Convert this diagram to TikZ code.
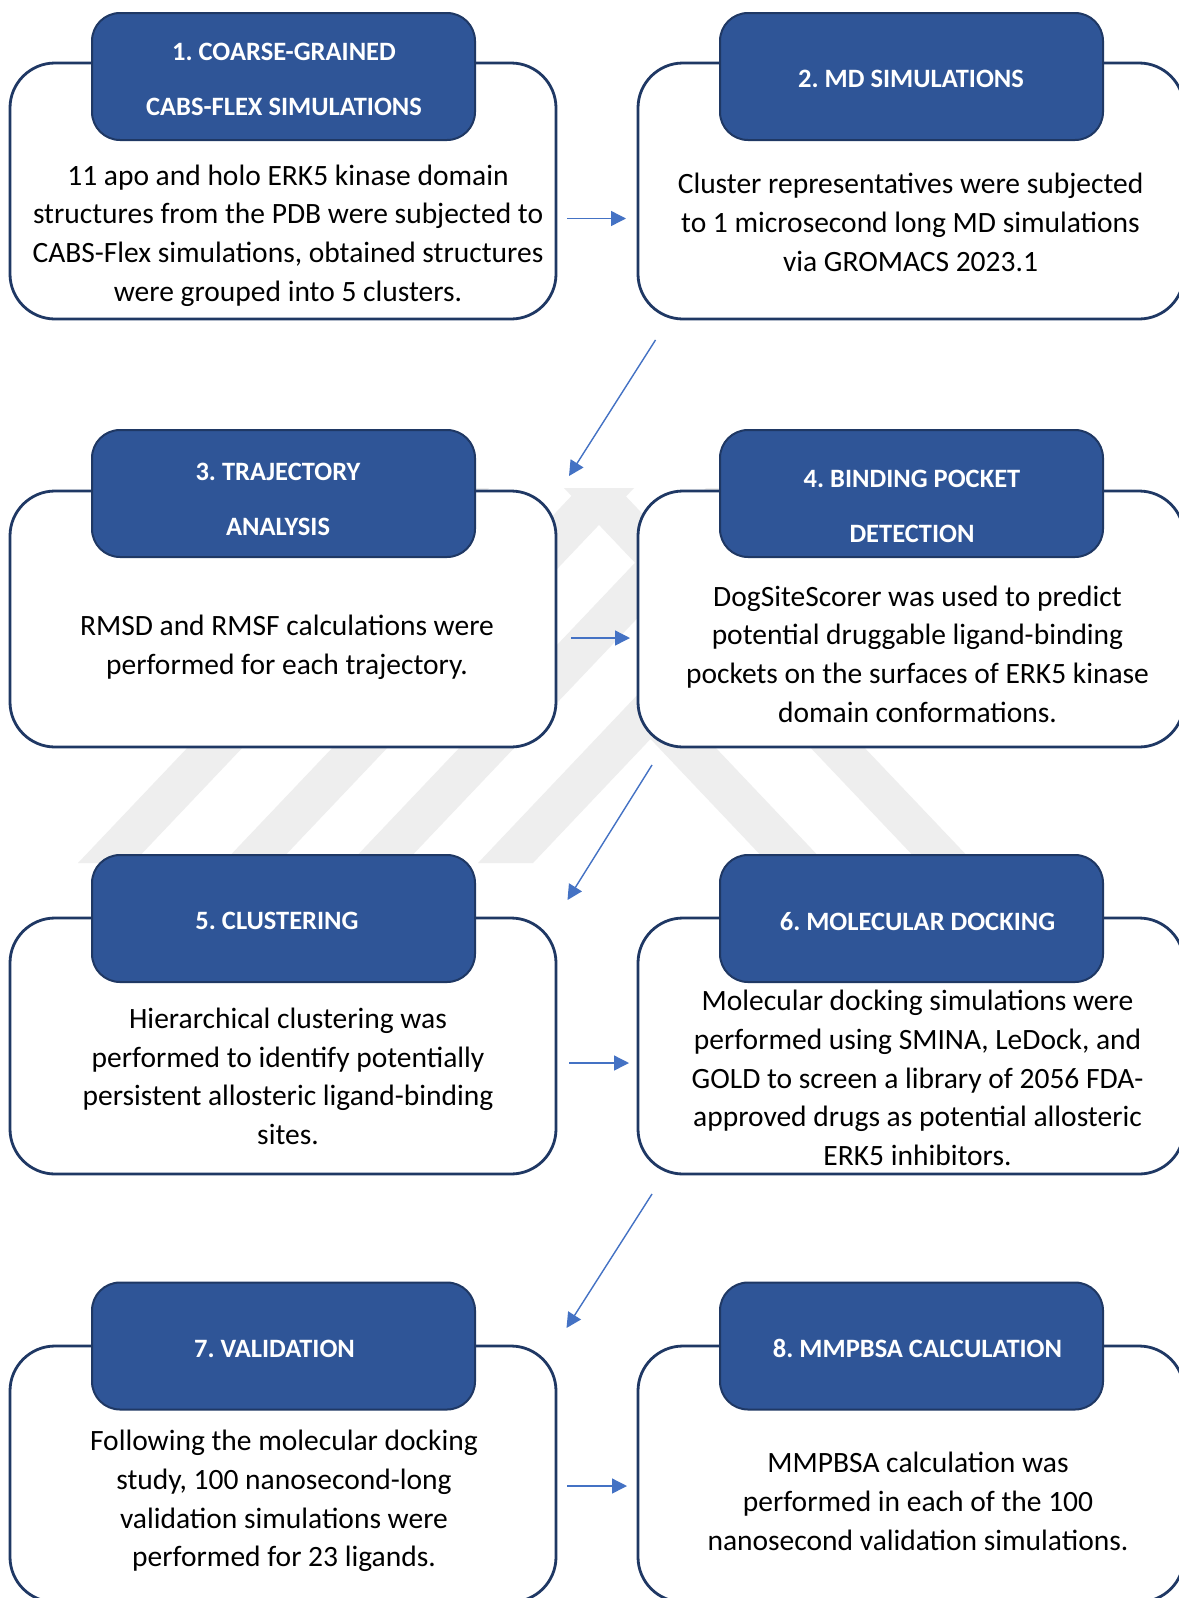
\documentclass[tikz,border=0pt]{standalone}
\usepackage{fontspec}
\setmainfont{Carlito}
\usetikzlibrary{arrows.meta}
\usetikzlibrary{positioning}
\definecolor{navyline}{RGB}{31,56,100}
\definecolor{headblue}{RGB}{47,85,151}
\definecolor{flowblue}{RGB}{68,114,196}
\definecolor{markgray}{RGB}{238,238,238}
\tikzset{>={Triangle[length=15pt,width=15pt]}, flow/.style={->, draw=flowblue, fill=flowblue, line width=1.4pt}}
\frenchspacing

\begin{document}
\begin{tikzpicture}[x=1pt,y=-1pt]
\tikzstyle{every node}+=[inner sep=0pt, outer sep=0pt]
\tikzstyle{stepbox}=[draw=navyline, line width=2.8pt, fill=white, rounded corners=45pt, minimum width=546pt, minimum height=256pt]
\tikzstyle{headbox}=[draw=navyline, line width=2pt, fill=headblue, rounded corners=28pt, minimum width=383pt, minimum height=127pt]
\tikzstyle{headtext}=[text=white, font=\fontsize{26.5}{55}\selectfont\bfseries, align=center]
\tikzstyle{bodytext}=[font=\fontsize{29.5}{38.7}\selectfont, align=center]
\useasboundingbox (0,0) rectangle (1178,1598);
\fill[white] (0,0) rectangle (1178,1598);
% faint watermark behind the boxes
\fill[markgray] (78,863) -- (133,863) -- (489,488) -- (434,488) -- cycle;
\fill[markgray] (223,863) -- (278,863) -- (634,488) -- (579,488) -- cycle;
\fill[markgray] (350,863) -- (405,863) -- (761,488) -- (706,488) -- cycle;
\fill[markgray] (478,863) -- (651.5,680) -- (825,863) -- (768,863) -- (650.5,739) -- (533,863) -- cycle;
\fill[markgray] (920,863) -- (974,863) -- (618,488) -- (564,488) -- cycle;
% row 1
\node[stepbox] (s1) at (283,191) {};
\node[stepbox] (s2) at (911,191) {};
\node[headbox] (h1) at (283.5,76.5) {};
\node[headbox] (h2) at (911.5,76.5) {};
\node[headtext] (h1t) at (284,79.5) {1. COARSE-GRAINED\\CABS-FLEX SIMULATIONS};
\node[headtext] (h2t) at (911,78.5) {2. MD SIMULATIONS};
\node[bodytext] (b1) at (288,235.5) {11 apo and holo ERK5 kinase domain\\structures from the PDB were subjected to\\CABS-Flex simulations, obtained structures\\were grouped into 5 clusters.};
\node[bodytext] (b2) at (910.5,222.5) {Cluster representatives were subjected\\to 1 microsecond long MD simulations\\via GROMACS 2023.1};
% row 2
\node[stepbox] (s3) at (283,619) {};
\node[stepbox] (s4) at (911,619) {};
\node[headbox] (h3) at (283.5,493.5) {};
\node[headbox] (h4) at (911.5,493.5) {};
\node[headtext] (h3t) at (278,499) {3. TRAJECTORY\\ANALYSIS};
\node[headtext] (h4t) at (912,506) {4. BINDING POCKET\\DETECTION};
\node[bodytext] (b3) at (287,647) {RMSD and RMSF calculations were\\performed for each trajectory.};
\node[bodytext] (b4) at (917.5,654) {DogSiteScorer was used to predict\\potential druggable ligand-binding\\pockets on the surfaces of ERK5 kinase\\domain conformations.};
% row 3
\node[stepbox] (s5) at (283,1046) {};
\node[stepbox] (s6) at (911,1046) {};
\node[headbox] (h5) at (283.5,918.5) {};
\node[headbox] (h6) at (911.5,918.5) {};
\node[headtext] (h5t) at (277,921) {5. CLUSTERING};
\node[headtext] (h6t) at (917.5,922) {6. MOLECULAR DOCKING};
\node[bodytext] (b5) at (288,1076.5) {Hierarchical clustering was\\performed to identify potentially\\persistent allosteric ligand-binding\\sites.};
\node[bodytext] (b6) at (917.5,1078) {Molecular docking simulations were\\performed using SMINA, LeDock, and\\GOLD to screen a library of 2056 FDA-\\approved drugs as potential allosteric\\ERK5 inhibitors.};
% row 4
\node[stepbox] (s7) at (283,1474) {};
\node[stepbox] (s8) at (911,1474) {};
\node[headbox] (h7) at (283.5,1346) {};
\node[headbox] (h8) at (911.5,1346) {};
\node[headtext] (h7t) at (274.5,1349) {7. VALIDATION};
\node[headtext] (h8t) at (917.5,1348) {8. MMPBSA CALCULATION};
\node[bodytext] (b7) at (284,1501) {Following the molecular docking\\study, 100 nanosecond-long\\validation simulations were\\performed for 23 ligands.};
\node[bodytext] (b8) at (918,1501.5) {MMPBSA calculation was\\performed in each of the 100\\nanosecond validation simulations.};
% arrows
\draw[flow, shorten <=11pt, shorten >=12pt] ([yshift=-27.5pt]s1.east) -- ([yshift=-27.5pt]s2.west);
\draw[flow] ([xshift=17.5pt,yshift=-21pt]s2.south west) -- ([xshift=13pt,yshift=15pt]s3.north east);
\draw[flow, shorten <=15pt, shorten >=8pt] ([yshift=-19pt]s3.east) -- ([yshift=-19pt]s4.west);
\draw[flow] ([xshift=14pt,yshift=-18pt]s4.south west) -- ([xshift=11.5pt,yshift=18pt]s5.north east);
\draw[flow, shorten <=13pt, shorten >=9pt] ([yshift=-17pt]s5.east) -- ([yshift=-17pt]s6.west);
\draw[flow] ([xshift=14pt,yshift=-20pt]s6.south west) -- ([xshift=10.5pt,yshift=18pt]s7.north east);
\draw[flow, shorten <=11pt, shorten >=11pt] ([yshift=-12pt]s7.east) -- ([yshift=-12pt]s8.west);
\end{tikzpicture}
\end{document}
